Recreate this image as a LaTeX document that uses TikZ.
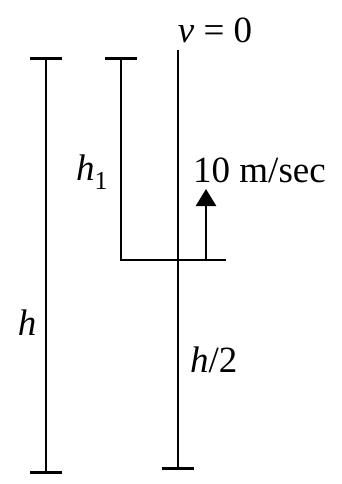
\documentclass[tikz,border=0pt]{standalone}
\usepackage{fontspec}
\setmainfont{Liberation Serif}
\usetikzlibrary{arrows.meta}

\begin{document}
\begin{tikzpicture}[
    x=1pt, y=-1pt,
    bar/.style={line width=2.6pt},
    lbl/.style={font=\fontsize{37}{42}\selectfont, inner sep=0pt},
    endbar/.tip={Bar[width=32pt, line width=2.6pt]}
]
    \useasboundingbox (0,0) rectangle (341,484);

    % points of the lines
    \coordinate (ltop) at (46,57);
    \coordinate (lbot) at (46,474);
    \coordinate (mtop) at (178,50);
    \coordinate (mbot) at (178,470);
    \coordinate (htop) at (121,57);
    \coordinate (hcorner) at (121,260);
    \coordinate (hend) at (226,260);
    \coordinate (abase) at (206,260);
    \coordinate (atip) at (206,189);

    % total height h
    \draw[bar, endbar-endbar] (ltop) -- (lbot);

    % path of the body
    \draw[bar, -endbar] (mtop) -- (mbot);

    % height h1 and the level
    \draw[bar, endbar-] (htop) -- (hcorner) -- (hend);

    % velocity arrow
    \draw[bar, -{Triangle[length=17pt, width=20pt]}] (abase) -- (atip);

    % labels
    \node[lbl] (vzero) at (215,30) {\textit{v} = 0};
    \node[lbl, anchor=west] (speed) at (193,170) {10 m/sec};
    \node[lbl] (hone) at (92,172) {\textit{h}\textsubscript{1}};
    \node[lbl] (hfull) at (27,323) {\textit{h}};
    \node[lbl, anchor=west] (hhalf) at (190,360) {\textit{h}/2};
\end{tikzpicture}
\end{document}
